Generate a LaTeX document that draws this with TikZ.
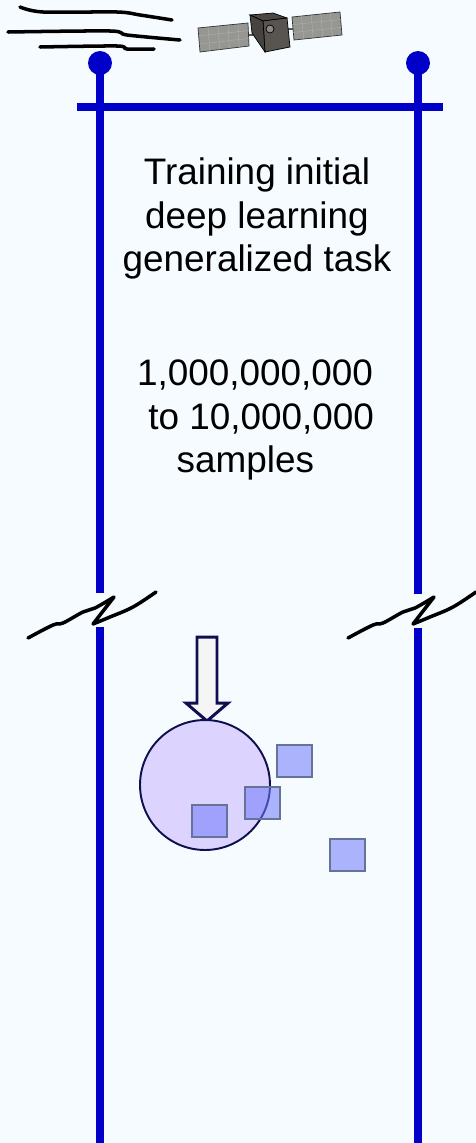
\documentclass[tikz,border=0pt]{standalone}
\usepackage{fontspec}
\setmainfont{Liberation Sans}
\usetikzlibrary{calc,arrows.meta}
\definecolor{paper}{RGB}{245,251,255}
\definecolor{rail}{RGB}{0,0,200}
\definecolor{navy}{RGB}{15,15,80}
\definecolor{lilac}{RGB}{220,212,255}
\definecolor{chip}{RGB}{110,120,250}
\definecolor{chipedge}{RGB}{100,115,150}
\definecolor{panel}{RGB}{150,150,147}
\definecolor{hull}{RGB}{88,84,80}

\begin{document}
\begin{tikzpicture}[x=0.02cm, y=-0.02cm]
    \fill[paper] (0,0) rectangle (476,1143);
    \useasboundingbox (0,0) rectangle (476,1143);
    \coordinate (LT) at (100,63);
    \coordinate (RT) at (418,63);
    \coordinate (LB) at (100,1143);
    \coordinate (RB) at (418,1143);
    \coordinate (BL) at (77,107);
    \coordinate (BR) at (443,107);
    \draw[rail, line width=4.5pt] (BL) -- (BR);
    \draw[rail, line width=4.5pt] (LT) -- (100,593) (100,627) -- (LB);
    \draw[rail, line width=4.5pt] (RT) -- (418,594) (418,628) -- (RB);
    \foreach \p in {LT,RT} {\fill[rail] (\p) circle (0.24cm);}
    \foreach \dx in {0,320} {
        \draw[shift={(\dx,0)}, line width=2pt, line cap=round, line join=round]
            plot[smooth, tension=0.6] coordinates {(28,638) (53,625) (63,623) (83,612) (95,608) (114,597)}
            -- plot[smooth, tension=0.6] coordinates {(93,624) (110,617) (133,607) (156,592)};
    }
    \draw[line width=2pt, line cap=round] plot[smooth] coordinates {(20,7) (43,12) (117,12) (140,15) (172,20)};
    \draw[line width=2pt, line cap=round] plot[smooth] coordinates {(8,32) (110,31) (127,35) (180,40)};
    \draw[line width=2pt, line cap=round] plot[smooth] coordinates {(40,47) (117,46) (127,49) (154,49)};
    \draw[gray!70!black, line width=1.2pt] (247,35) -- (253,35) (287,29) -- (294,29);
    \filldraw[fill=panel, draw=gray!40!black, thin] (198,28) -- (248,23) -- (249,46) -- (200,52) -- cycle;
    \filldraw[fill=panel, draw=gray!40!black, thin] (292,17) -- (340,12) -- (342,35) -- (294,40) -- cycle;
    \foreach \t in {0.2,0.4,0.6,0.8} {
        \draw[gray!60, very thin] ($(198,28)!\t!(248,23)$) -- ($(200,52)!\t!(249,46)$);
        \draw[gray!60, very thin] ($(292,17)!\t!(340,12)$) -- ($(294,40)!\t!(342,35)$);
    }
    \foreach \t in {0.33,0.67} {
        \draw[gray!60, very thin] ($(198,28)!\t!(200,52)$) -- ($(248,23)!\t!(249,46)$);
        \draw[gray!60, very thin] ($(292,17)!\t!(294,40)$) -- ($(340,12)!\t!(342,35)$);
    }
    \filldraw[fill=hull!85!black, draw=black, thin] (250,15) -- (273,13) -- (287,18) -- (263,21) -- cycle;
    \filldraw[fill=hull, draw=black, thin] (263,21) -- (287,18) -- (290,47) -- (265,52) -- cycle;
    \filldraw[fill=hull!80!black, draw=black, thin] (250,15) -- (263,21) -- (265,52) -- (252,33) -- cycle;
    \filldraw[fill=hull!70!white, draw=black, thin] (270,29) circle (0.08cm);
    \node[anchor=north, inner sep=0pt, align=center, font=\fontsize{21}{25}\selectfont] (task) at (257,157)
        {Training initial\\deep learning\\generalized task};
    \node[anchor=north, inner sep=0pt, align=center, font=\fontsize{21}{25}\selectfont] (count) at (255,359)
        {1,000,000,000\\\hspace*{7pt}to 10,000,000\\samples\hspace*{11pt}};
    \filldraw[fill=gray!8, draw=navy, line width=1.7pt, line join=miter]
        (197,637) -- (217,637) -- (217,703) -- (228,703) -- (207,721) -- (186,703) -- (197,703) -- cycle;
    \filldraw[fill=lilac, draw=navy, line width=1.1pt] (205,785) circle (1.3cm);
    \foreach \x/\y in {277/745, 245/787, 192/805, 330/839} {
        \filldraw[fill=chip, fill opacity=0.55, draw=chipedge, line width=0.9pt] (\x,\y) rectangle ++(35,32);
    }
\end{tikzpicture}
\end{document}
